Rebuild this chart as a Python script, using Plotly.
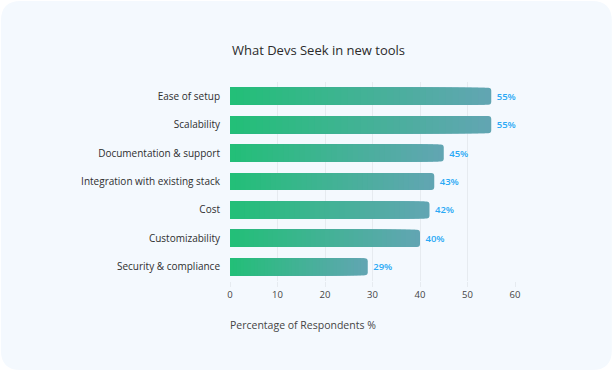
import plotly.graph_objects as go

categories = ["Ease of setup", "Scalability", "Documentation & support",
              "Integration with existing stack", "Cost", "Customizability",
              "Security & compliance"]
values = [55, 55, 45, 43, 42, 40, 29]
value_labels = ["55%", "55%", "45%", "43%", "42%", "40%", "29%"]
x_ticks = [0, 10, 20, 30, 40, 50, 60]
title_text = "What Devs Seek in new tools"
x_title = "Percentage of Respondents %"

W, H = 612, 371
L, R, T, B = 229.5, 97, 81.5, 89.5
pw, ph = W - L - R, H - T - B

start_rgb = (0x22, 0xbf, 0x77)
end_rgb = (0x62, 0xa5, 0xb3)
N = 40

def lerp(p):
    return "rgb(%d,%d,%d)" % tuple(round(s + (e - s) * p) for s, e in zip(start_rgb, end_rgb))

FONT = "Open Sans"
fig = go.Figure()
for k in range(N):
    f = (N - k) / N
    mid = (N - k - 0.5) / N
    fig.add_trace(go.Bar(
        y=categories, x=[v * f for v in values], orientation="h",
        marker=dict(color=lerp(mid), line=dict(width=0),
                    cornerradius=3 if k == 0 else 0),
        width=0.6,
        text=[" " + t for t in value_labels] if k == 0 else None,
        textposition="outside" if k == 0 else "none",
        textfont=dict(family=FONT, size=9.5, color="#2aa9f5", weight=600),
        cliponaxis=False, hoverinfo="skip", showlegend=False,
    ))

def px2x(px):
    return (px - L) / pw

def py2y(py):
    return 1 - (py - T) / ph

rad = 20
x0, x1, y0, y1 = px2x(0), px2x(W), py2y(0), py2y(H)
rx, ry = rad / pw, rad / ph
path = (f"M {x0+rx},{y0} L {x1-rx},{y0} Q {x1},{y0} {x1},{y0-ry} "
        f"L {x1},{y1+ry} Q {x1},{y1} {x1-rx},{y1} L {x0+rx},{y1} "
        f"Q {x0},{y1} {x0},{y1+ry} L {x0},{y0-ry} Q {x0},{y0} {x0+rx},{y0} Z")

fig.update_layout(
    width=W, height=H,
    margin=dict(l=L, r=R, t=T, b=B, autoexpand=False),
    paper_bgcolor="white", plot_bgcolor="rgba(0,0,0,0)",
    barmode="overlay", bargap=0.4,
    font=dict(family=FONT, color="#333333"),
    shapes=[dict(type="path", path=path, xref="paper", yref="paper",
                 fillcolor="#f4f9fe", line=dict(width=0), layer="below")],
    title=dict(text=title_text, xref="container", yref="container",
               x=318.5 / W, y=1 - 50 / H, xanchor="center", yanchor="middle",
               font=dict(family=FONT, size=13, color="#2b2b2b")),
    xaxis=dict(range=[0, 60], tickvals=x_ticks, showgrid=True,
               gridcolor="#e6ebf0", gridwidth=1, zeroline=False,
               showline=False, ticks="outside", ticklen=5, tickcolor="#e6ebf0",
               tickfont=dict(family=FONT, size=9.5, color="#444444"),
               fixedrange=True),
    yaxis=dict(autorange="reversed", showgrid=False, zeroline=False,
               ticks="", ticklabelstandoff=9,
               tickfont=dict(family=FONT, size=10, color="#2e2e2e"),
               fixedrange=True),
    annotations=[dict(text=x_title, xref="paper", yref="paper",
                      x=px2x(227), y=py2y(326), xanchor="left", yanchor="middle",
                      showarrow=False,
                      font=dict(family=FONT, size=10.5, color="#444444"))],
)

fig.write_html("out.html", config={"displayModeBar": False},
               post_script="document.body.style.margin='0';document.body.style.padding='0';")
